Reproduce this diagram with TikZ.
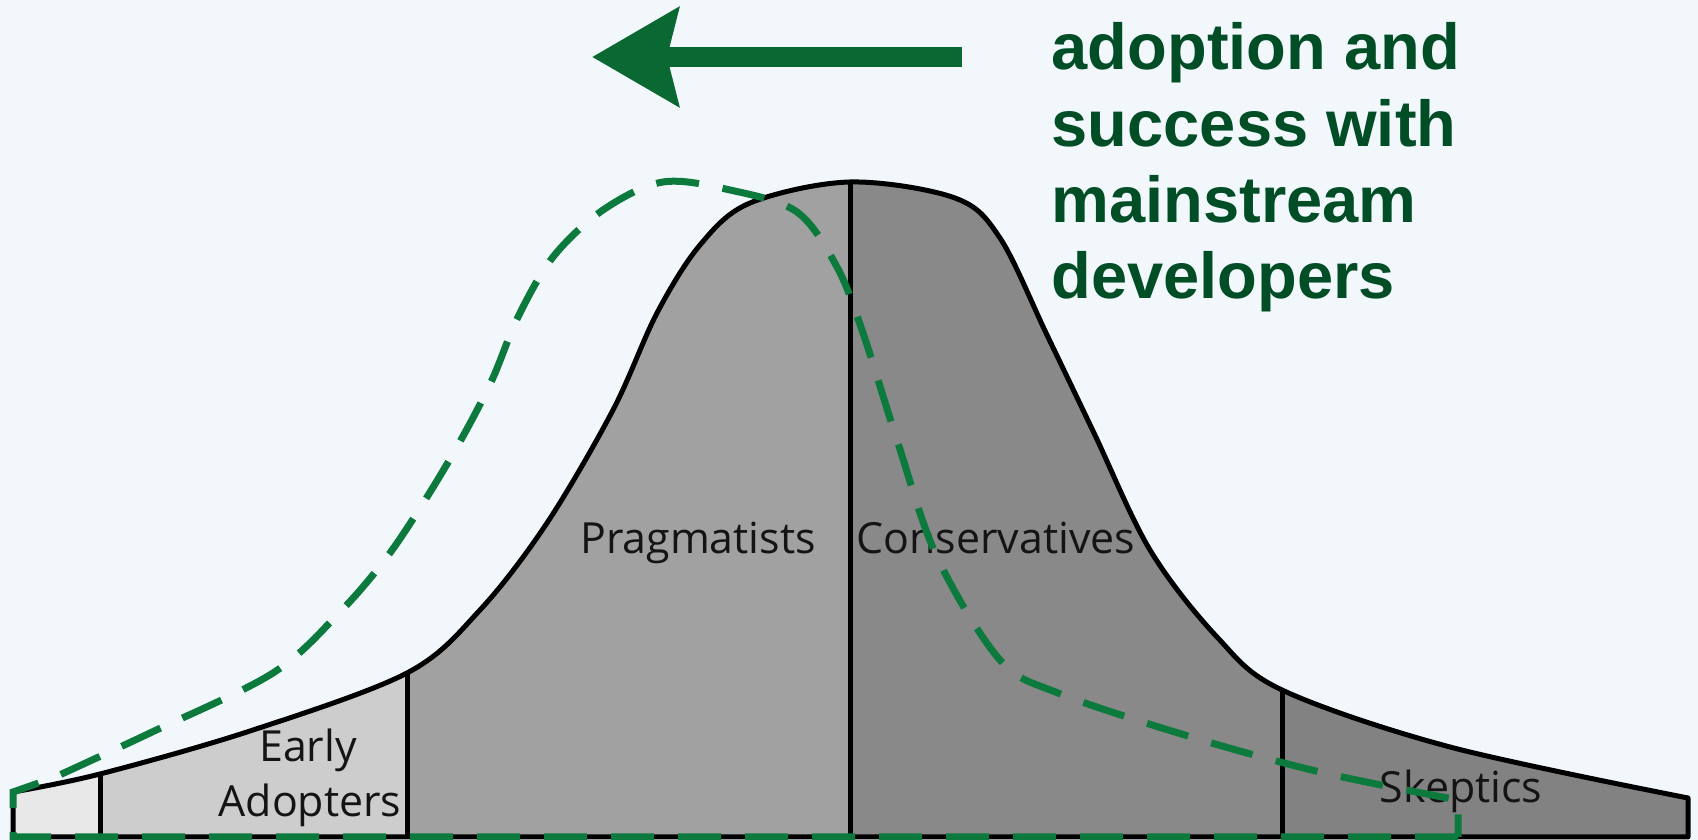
\documentclass[tikz,border=0pt]{standalone}
\usepackage{fontspec}
\setsansfont{Open Sans}
\newfontfamily\calloutfont{Liberation Sans}
\usetikzlibrary{arrows.meta}

\definecolor{paleblue}{RGB}{242,247,252}
\definecolor{tailgray}{RGB}{232,232,232}
\definecolor{earlygray}{RGB}{205,205,205}
\definecolor{praggray}{RGB}{161,161,161}
\definecolor{consgray}{RGB}{137,137,137}
\definecolor{skepgray}{RGB}{130,130,130}
\definecolor{labelgray}{RGB}{20,20,20}
\definecolor{trendgreen}{RGB}{12,122,60}
\definecolor{arrowgreen}{RGB}{10,104,50}
\definecolor{calloutgreen}{RGB}{0,77,38}

\begin{document}
\begin{tikzpicture}[x=0.1mm,y=-0.1mm,
  outline/.style={line width=0.5mm,line join=round},
  segment/.style={font=\sffamily\fontsize{12.2}{14}\selectfont,text=labelgray,inner sep=0pt,anchor=base},
  trend/.style={draw=trendgreen,line width=0.7mm,dash pattern=on 4.3mm off 2.4mm},
  push/.style={draw=arrowgreen,line width=2mm,-{Stealth[length=8.6mm,width=9.7mm,inset=1.1mm]}},
  callout/.style={font=\calloutfont\bfseries\fontsize{18.5}{21.7}\selectfont,text=calloutgreen,align=left,inner sep=0pt,anchor=north west}]

\fill[paleblue] (0,0) rectangle (1698,840);

\useasboundingbox (0,0) rectangle (1698,840);

\path[save path=\bellregion] plot[smooth,tension=0.55] coordinates {(13,792) (100,774) (250,731) (407,673) (480,610) (547,523) (613,410) (657,313) (700,245) (750,203) (850,182) (955,198) (1000,238) (1047,335) (1094,433) (1150,550) (1217,637) (1282,690) (1450,747) (1688,798)} -- (1688,837) -- (13,837) -- cycle;

\begin{scope}
\clip[use path=\bellregion];
\fill[tailgray] (0,0) rectangle (100,840);
\fill[earlygray] (100,0) rectangle (407,840);
\fill[praggray] (407,0) rectangle (850,840);
\fill[consgray] (850,0) rectangle (1282,840);
\fill[skepgray] (1282,0) rectangle (1698,840);
\draw[outline] (100,0) -- (100,840);
\draw[outline] (407,0) -- (407,840);
\draw[outline] (850,0) -- (850,840);
\draw[outline] (1282,0) -- (1282,840);
\end{scope}

\draw[outline,use path=\bellregion];

\node[segment] (pragmatists) at (698,554) {Pragmatists};

\node[segment] (conservatives) at (996,554) {Conservatives};

\node[segment] (early) at (308,762) {Early};

\node[segment] (adopters) at (310,817) {Adopters};

\node[segment] (skeptics) at (1461,803) {Skeptics};

\draw[trend] (1458,837) -- (13,837) -- (13,792) -- plot[smooth,tension=0.55] coordinates {(53,778) (150,733) (273,673) (340,612) (387,557) (427,497) (462,438) (492,380) (518,317) (553,257) (603,210) (663,182) (730,190) (797,212) (837,267) (863,333) (897,440) (937,557) (1000,660) (1058,693) (1188,736) (1320,772) (1458,800)} -- cycle;

\coordinate (pushstart) at (962,57);

\coordinate (pushend) at (592,57);

\draw[push] (pushstart) -- (pushend);

\node[callout] (message) at (1051,22) {adoption and\\success with\\mainstream\\developers};

\end{tikzpicture}
\end{document}
